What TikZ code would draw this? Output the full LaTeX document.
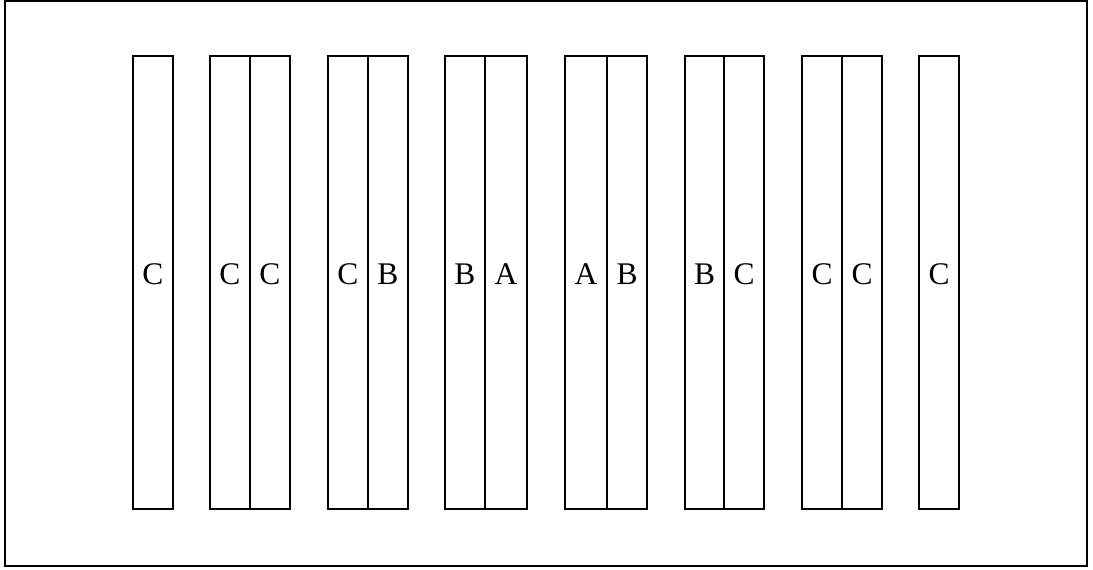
\documentclass[tikz,border=0pt]{standalone}
\usepackage{fontspec}
\setmainfont{Liberation Serif}
\begin{document}
\begin{tikzpicture}[x=1pt,y=-1pt,
  bar/.style={draw,line width=1.6pt,inner sep=0pt,minimum height=453pt},
  lab/.style={inner sep=0pt,font=\fontsize{31.5}{36}\selectfont}]
\useasboundingbox (0,0) rectangle (1093,570);
\node[draw,line width=1.6pt,inner sep=0pt,minimum width=1082pt,minimum height=565pt] (frame) at (546,283.5) {};
\foreach \l/\r/\t [count=\i] in {133/173/C,210/250/C,250/290/C,328/368/C,368/408/B,445/485/B,485/527/A,565/607/A,607/647/B,685/724/B,724/764/C,802/842/C,842/882/C,919/959/C}{
  \node[bar,minimum width={\r-\l}] (b\i) at ({(\l+\r)/2},282.5) {};
  \node[lab] (t\i) at ([yshift=8pt]b\i.center) {\t};
}
\end{tikzpicture}
\end{document}
